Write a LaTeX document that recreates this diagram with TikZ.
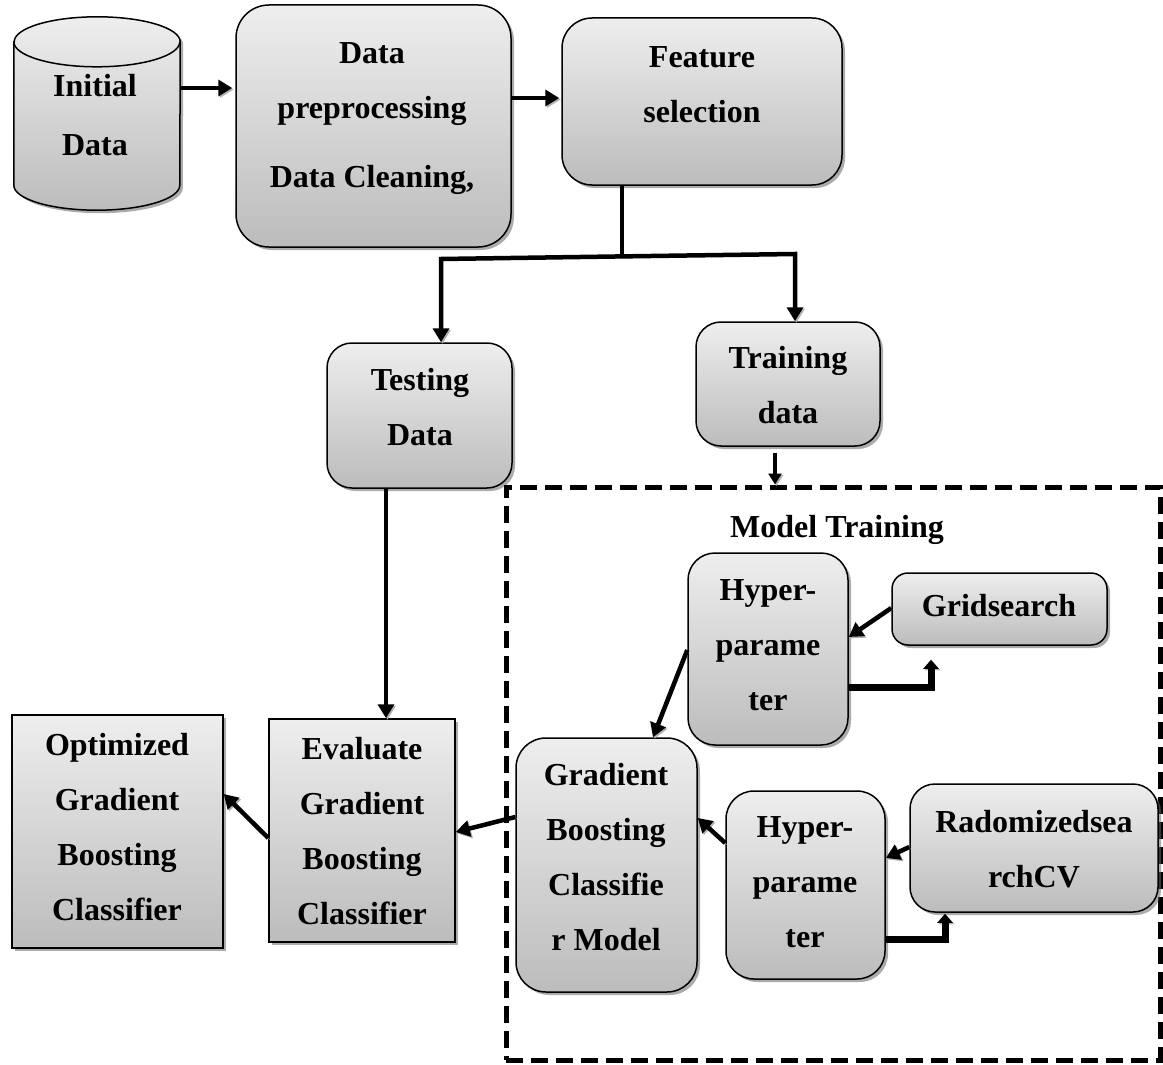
\documentclass[tikz,border=0pt]{standalone}
\usepackage{fontspec}
\setmainfont{Liberation Serif}
\usetikzlibrary{arrows.meta,shadows}
\definecolor{boxtop}{HTML}{EEEEEE}
\definecolor{boxbot}{HTML}{BCBCBC}
\begin{document}
\begin{tikzpicture}[x=1pt,y=1pt,
  sz/.style 2 args={minimum width=#1pt, minimum height=#2pt},
  box/.style={draw=black, line width=1.5pt, top color=boxtop, bottom color=boxbot,
    drop shadow={shadow xshift=3pt, shadow yshift=-3pt, fill=black!60, opacity=0.55},
    inner sep=0pt},
  rbox/.style={box, rounded corners=#1},
  txt/.style={font=\fontsize{32}{55}\selectfont\bfseries, align=center, inner sep=0pt},
  shade arrow/.style={preaction={draw=black!30, transform canvas={shift={(1.5pt,-1.5pt)}}}},
  arr/.style={line width=4.5pt, -{Triangle[length=14pt,width=16pt]}, shade arrow},
  thinarr/.style={line width=3.5pt, -{Triangle[length=11pt,width=13pt]}, shade arrow},
  elbow/.style={line width=7pt, -{Triangle[length=9pt,width=15pt]}, shade arrow},
  link/.style={line width=4.5pt, shade arrow},
  region/.style={draw=black, line width=5pt, dash pattern=on 17pt off 8pt, inner sep=0pt}
]
\useasboundingbox (0,0) rectangle (1163,-1065);

% ---- database cylinder ----
\node[sz={166}{193}, inner sep=0pt] (cyl) at (97,-113.5) {};
\path[drop shadow={shadow xshift=3pt, shadow yshift=-3pt, fill=black!60, opacity=0.55},
      top color=boxtop, bottom color=boxbot, draw=black, line width=1.5pt]
  ([yshift=-25pt]cyl.north west) -- ([yshift=25pt]cyl.south west)
  arc[start angle=180, end angle=360, x radius=83pt, y radius=25pt]
  -- ([yshift=-25pt]cyl.north east)
  arc[start angle=0, end angle=180, x radius=83pt, y radius=25pt] -- cycle;
\draw[line width=1.5pt] ([yshift=-25pt]cyl.north west)
  arc[start angle=180, end angle=360, x radius=83pt, y radius=25pt];
\node[txt] (cyl-t) at (95,-115.5) {Initial\\[4pt]Data};

% ---- top row ----
\node[rbox=33pt, sz={275}{242}] (prep) at (373.5,-126) {};
\node[txt] (prep-t) at (372,-119) {Data\\preprocessing\\[14pt]Data Cleaning,};

\node[rbox=30pt, sz={280}{167}] (feat) at (702,-101.5) {};
\node[txt] (feat-t) at (702,-84.5) {Feature\\selection};

% ---- data split ----
\node[rbox=25pt, sz={185}{145}] (test) at (419.5,-415.5) {};
\node[txt] (test-t) at (420,-407) {Testing\\Data};

\node[rbox=25pt, sz={184}{124}] (train) at (788,-384) {};
\node[txt] (train-t) at (788,-385.5) {Training\\data};

% ---- model training region ----
\node[region, sz={654}{573}] (mt) at (833,-773.5) {};
\node[txt] (mt-t) at (837,-529.5) {Model Training};

\node[rbox=27pt, sz={160}{192}] (hyp1) at (768,-649) {};
\node[txt] (hyp1-t) at (768,-645.5) {Hyper-\\parame\\ter};

\node[rbox=16pt, sz={215}{72}] (grid) at (999.5,-609) {};
\node[txt] (grid-t) at (999,-606) {Gridsearch};

\node[rbox=30pt, sz={181}{254}] (gbc) at (606.5,-865) {};
\node[txt] (gbc-t) at (606,-857.5) {Gradient\\Boosting\\Classifie\\r Model};

\node[rbox=28pt, sz={159}{188}] (hyp2) at (805.5,-885) {};
\node[txt] (hyp2-t) at (805,-882) {Hyper-\\parame\\ter};

\node[rbox=25pt, sz={248}{128}] (rand) at (1034,-848) {};
\node[txt] (rand-t) at (1034,-849) {Radomizedsea\\rchCV};

% ---- evaluation ----
\node[box, sz={186}{223}] (eval) at (362,-830.5) {};
\node[txt] (eval-t) at (362,-831.5) {Evaluate\\Gradient\\Boosting\\Classifier};

\node[box, sz={211}{233}] (opt) at (117.5,-831.5) {};
\node[txt] (opt-t) at (117,-827.5) {Optimized\\Gradient\\Boosting\\Classifier};

% ---- connectors ----
\draw[arr] (cyl.east |- 0,-88) -- ([xshift=-3pt]prep.west |- 0,-88);
\draw[arr] (prep.east |- 0,-98) -- ([xshift=-2pt]feat.west |- 0,-98);

\coordinate (fork) at (622,-256.4);
\coordinate (forkL) at (441,-259);
\coordinate (forkR) at (795,-254);
\draw[link] (feat.south -| fork) -- (fork);
\draw[arr] (fork) -- (forkL) -- (forkL |- test.north);
\draw[arr] (fork) -- (forkR) -- (forkR |- train.north);

\draw[thinarr] ([xshift=-13pt,yshift=-6pt]train.south) -- ([xshift=-13pt]train.south |- mt.north);
\draw[arr] ([xshift=-33.5pt]test.south) -- ([xshift=-33.5pt]test.south |- eval.north);

\draw[arr] (grid.west |- 0,-608) -- (hyp1.east |- 0,-637);
\draw[elbow] (hyp1.east |- 0,-687) -| ([xshift=-68.5pt,yshift=-14pt]grid.south);
\draw[arr] (hyp1.west |- 0,-650) -- ([xshift=46.5pt]gbc.north);

\draw[arr] (rand.west |- 0,-847) -- (hyp2.east |- 0,-858);
\draw[elbow] (hyp2.east |- 0,-939) -| ([xshift=-89pt,yshift=-1pt]rand.south);
\draw[arr] (hyp2.west |- 0,-843) -- (gbc.east |- 0,-818);

\draw[arr] (gbc.west |- 0,-817) -- (eval.east |- 0,-832);
\draw[arr] (eval.west |- 0,-838) -- (opt.east |- 0,-794);
\end{tikzpicture}
\end{document}
